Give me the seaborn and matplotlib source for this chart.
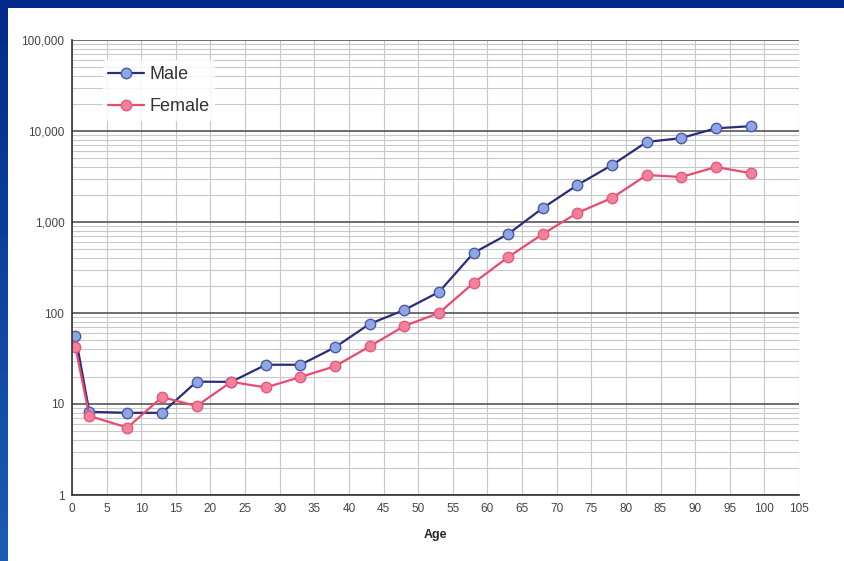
import numpy as np
import pandas as pd
import matplotlib
matplotlib.use('Agg')
import matplotlib.pyplot as plt
import matplotlib.ticker as mticker
from matplotlib.patches import Rectangle
import seaborn as sns

# Dados
idades = [0.5, 2.5, 8, 13, 18, 23, 28, 33, 38, 43, 48, 53, 58, 63, 68, 73, 78, 83, 88, 93, 98]
masculino = [56, 8.2, 8, 8, 17.6, 17.5, 27, 27, 42, 76, 108, 170, 457, 738, 1425, 2550, 4230,
             7570, 8370, 10700, 11300]
feminino = [42, 7.4, 5.5, 11.9, 9.5, 17.5, 15.2, 19.8, 26, 43, 72, 100, 214, 412, 738, 1260, 1840,
            3280, 3125, 4020, 3450]
yticks = [1, 10, 100, 1000, 10000, 100000]
ytick_labels = ['1', '10', '100', '1,000', '10,000', '100,000']
xticks = list(range(0, 106, 5))

df = pd.DataFrame({'Age': idades, 'Male': masculino, 'Female': feminino})

sns.set_style('white')
plt.rcParams['font.family'] = ['Liberation Sans', 'DejaVu Sans']

fig = plt.figure(figsize=(8.44, 5.61), dpi=100)
fig.patch.set_facecolor('#062c8c')

# moldura azul com gradiente na esquerda
bg = fig.add_axes([0, 0, 1, 1], zorder=-10)
grad = np.linspace(0, 1, 256).reshape(-1, 1)
bg.imshow(grad, aspect='auto', extent=[0, 1, 0, 1], origin='lower',
          cmap=matplotlib.colors.LinearSegmentedColormap.from_list('b', ['#1a5cb4', '#022a8a']))
bg.add_patch(Rectangle((8 / 844, 0), 1, 1 - 8 / 561, facecolor='white', edgecolor='none'))
bg.set_xlim(0, 1)
bg.set_ylim(0, 1)
bg.axis('off')

ax = fig.add_axes([72 / 844, 1 - 495 / 561, (799 - 72) / 844, (495 - 40) / 561])
ax.set_facecolor('white')

sns.lineplot(data=df, x='Age', y='Male', ax=ax, color='#2b2b7a', linewidth=1.6,
             marker='o', markersize=7.5, markerfacecolor='#8ea6e4', markeredgecolor='#4a5aa8',
             markeredgewidth=1, label='Male')
sns.lineplot(data=df, x='Age', y='Female', ax=ax, color='#e84a70', linewidth=1.6,
             marker='o', markersize=7.5, markerfacecolor='#f2819c', markeredgecolor='#e8587c',
             markeredgewidth=1, label='Female')

ax.set_yscale('log')
ax.set_ylim(1, 100000)
ax.set_xlim(0, 105)
ax.set_yticks(yticks)
ax.set_yticklabels(ytick_labels)
ax.set_xticks(xticks)
ax.yaxis.set_minor_locator(mticker.LogLocator(base=10, subs=np.arange(2, 10)))
ax.yaxis.set_minor_formatter(mticker.NullFormatter())

ax.grid(which='major', axis='y', color='#555555', linewidth=1.2)
ax.grid(which='minor', axis='y', color='#c8c8c8', linewidth=0.8)
ax.grid(which='major', axis='x', color='#c8c8c8', linewidth=0.8)
ax.set_axisbelow(True)

for s in ['top', 'right']:
    ax.spines[s].set_visible(False)
for s in ['left', 'bottom']:
    ax.spines[s].set_color('#333333')
    ax.spines[s].set_linewidth(1.2)

ax.tick_params(axis='both', which='major', direction='inout', length=4, width=1,
               labelsize=8.5, labelcolor='#444444', color='#333333')
ax.tick_params(axis='y', which='minor', length=0)
ax.set_xlabel('Age', fontsize=9, fontweight='bold', labelpad=10)
ax.set_ylabel('')

leg = ax.legend(loc='upper left', bbox_to_anchor=(0.03, 0.975), fontsize=13, frameon=True,
                handlelength=2.0, handletextpad=0.3, borderpad=0.3, labelspacing=0.85)
leg.get_frame().set_facecolor('white')
leg.get_frame().set_edgecolor('none')
leg.get_frame().set_alpha(0.85)
for t in leg.get_texts():
    t.set_color('#333333')

fig.savefig('out.png', dpi=100)
